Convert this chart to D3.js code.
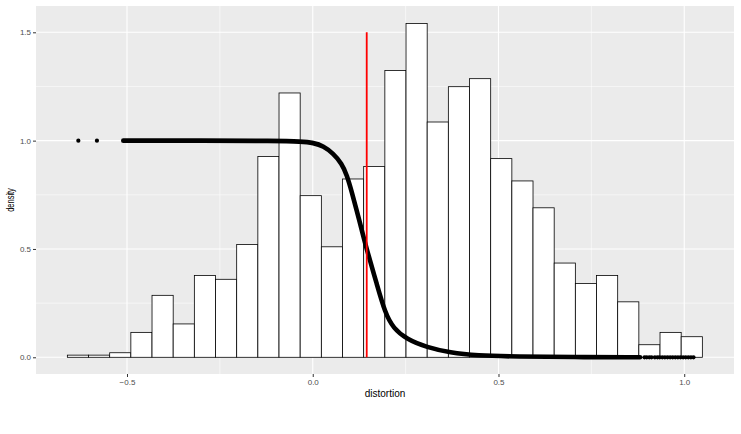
<!DOCTYPE html>
<html>
<head>
<meta charset="utf-8">
<script src="https://cdn.jsdelivr.net/npm/d3@7"></script>
<style>
    body { margin: 0; background: #fff; }
    text { font-family: "Liberation Sans", Arial, sans-serif; }
</style>
</head>
<body>
<div id="main_area"></div>
<script>
// histogram: 30 bins, left edge + width, density per bin
var binStart = -0.6606;
var binWidth = 0.05698;
var binDensity = [0.010, 0.010, 0.021, 0.115, 0.286, 0.154, 0.378, 0.360, 0.521, 0.927,
                  1.220, 0.746, 0.510, 0.823, 0.881, 1.324, 1.541, 1.086, 1.249, 1.286,
                  0.917, 0.814, 0.690, 0.435, 0.341, 0.378, 0.256, 0.058, 0.115, 0.095];

// the dense cloud of points (looks like a solid curve)
var curveX = [-0.510, -0.300, -0.100, -0.030, 0.002, 0.029, 0.055, 0.078, 0.092, 0.105,
              0.118, 0.132, 0.145, 0.172, 0.195, 0.217, 0.253, 0.307, 0.370, 0.441,
              0.550, 0.700, 0.881];
var curveY = [1.000, 1.000, 0.999, 0.996, 0.990, 0.975, 0.941, 0.895, 0.841, 0.764,
              0.680, 0.587, 0.500, 0.341, 0.203, 0.134, 0.083, 0.046, 0.021, 0.008,
              0.003, 0.001, 0.000];

// separate points that are not part of the solid stroke
var looseX = [-0.631, -0.581];
var looseY = [1, 1];
var tailX = [0.893, 0.899, 0.906, 0.912, 0.921, 0.928, 0.934, 0.941, 0.948, 0.955,
             0.962, 0.969, 0.976, 0.983, 0.990, 0.997, 1.004, 1.011, 1.018, 1.025];

var cutoff = 0.1453;
var xTicks = [-0.5, 0.0, 0.5, 1.0];
var xMinor = [-0.25, 0.25, 0.75];
var yTicks = [0.0, 0.5, 1.0, 1.5];
var yMinor = [0.25, 0.75, 1.25];

var W = 741, H = 434;
var panel = {left: 36, right: 734, top: 6, bottom: 374};

var svg = d3.select("div#main_area")
    .append("svg")
    .attr("width", W)
    .attr("height", H);

var x = d3.scaleLinear().domain([-0.745, 1.134]).range([panel.left, panel.right]);
var y = d3.scaleLinear().domain([-0.0771, 1.6214]).range([panel.bottom, panel.top]);

// panel background
svg.append("rect")
    .attr("x", panel.left)
    .attr("y", panel.top)
    .attr("width", panel.right - panel.left)
    .attr("height", panel.bottom - panel.top)
    .attr("fill", "#EBEBEB");

// grid lines
var grid = svg.append("g").attr("stroke", "#fff");
grid.selectAll("line.ymin").data(yMinor).enter().append("line")
    .attr("x1", panel.left).attr("x2", panel.right)
    .attr("y1", function (d) { return y(d); })
    .attr("y2", function (d) { return y(d); })
    .attr("stroke-width", 0.55);
grid.selectAll("line.xmin").data(xMinor).enter().append("line")
    .attr("y1", panel.top).attr("y2", panel.bottom)
    .attr("x1", function (d) { return x(d); })
    .attr("x2", function (d) { return x(d); })
    .attr("stroke-width", 0.55);
grid.selectAll("line.ymaj").data(yTicks).enter().append("line")
    .attr("x1", panel.left).attr("x2", panel.right)
    .attr("y1", function (d) { return y(d); })
    .attr("y2", function (d) { return y(d); })
    .attr("stroke-width", 1.1);
grid.selectAll("line.xmaj").data(xTicks).enter().append("line")
    .attr("y1", panel.top).attr("y2", panel.bottom)
    .attr("x1", function (d) { return x(d); })
    .attr("x2", function (d) { return x(d); })
    .attr("stroke-width", 1.1);

// histogram bars
svg.append("g")
    .selectAll("rect")
    .data(binDensity)
    .enter()
    .append("rect")
    .attr("x", function (d, i) { return x(binStart + i * binWidth); })
    .attr("width", function (d, i) { return x(binStart + (i + 1) * binWidth) - x(binStart + i * binWidth); })
    .attr("y", function (d) { return y(d); })
    .attr("height", function (d) { return y(0) - y(d); })
    .attr("fill", "#fff")
    .attr("stroke", "#000")
    .attr("stroke-width", 0.8);

// thick point cloud drawn as a smoothed line
var pts = curveX.map(function (d, i) { return [d, curveY[i]]; });
svg.append("path")
    .datum(pts)
    .attr("d", d3.line()
        .x(function (d) { return x(d[0]); })
        .y(function (d) { return y(d[1]); })
        .curve(d3.curveBasis))
    .attr("fill", "none")
    .attr("stroke", "#000")
    .attr("stroke-width", 4.6)
    .attr("stroke-linecap", "round");

svg.append("g")
    .selectAll("circle.loose")
    .data(looseX)
    .enter()
    .append("circle")
    .attr("cx", function (d) { return x(d); })
    .attr("cy", function (d, i) { return y(looseY[i]); })
    .attr("r", 2.1)
    .attr("fill", "#000");

svg.append("g")
    .selectAll("circle.tail")
    .data(tailX)
    .enter()
    .append("circle")
    .attr("cx", function (d) { return x(d); })
    .attr("cy", y(0))
    .attr("r", 2.1)
    .attr("fill", "#000");

// red cutoff line
svg.append("line")
    .attr("x1", x(cutoff)).attr("x2", x(cutoff))
    .attr("y1", y(0)).attr("y2", y(1.5))
    .attr("stroke", "#FF0000")
    .attr("stroke-width", 1.8);

// axes
var xAxis = svg.append("g")
    .attr("transform", "translate(0," + panel.bottom + ")")
    .call(d3.axisBottom(x).tickValues(xTicks).tickSize(3).tickPadding(2)
        .tickFormat(d3.format(".1f")));
var yAxis = svg.append("g")
    .attr("transform", "translate(" + panel.left + ",0)")
    .call(d3.axisLeft(y).tickValues(yTicks).tickSize(3).tickPadding(2)
        .tickFormat(d3.format(".1f")));

[xAxis, yAxis].forEach(function (a) {
    a.select(".domain").remove();
    a.selectAll(".tick line").attr("stroke", "#333").attr("stroke-width", 1);
    a.selectAll(".tick text")
        .attr("fill", "#4D4D4D")
        .style("font-size", "8px")
        .style("font-family", "Liberation Sans, Arial, sans-serif");
});

// axis titles
svg.append("text")
    .attr("x", (x(-0.745) + x(1.134)) / 2)
    .attr("y", 397)
    .style("text-anchor", "middle")
    .style("font-size", "10px")
    .attr("fill", "#000")
    .text("distortion");

svg.append("text")
    .attr("transform", "translate(14,200) rotate(-90) scale(0.75,1)")
    .style("text-anchor", "middle")
    .style("font-size", "10px")
    .attr("fill", "#000")
    .text("density");
</script>
</body>
</html>
